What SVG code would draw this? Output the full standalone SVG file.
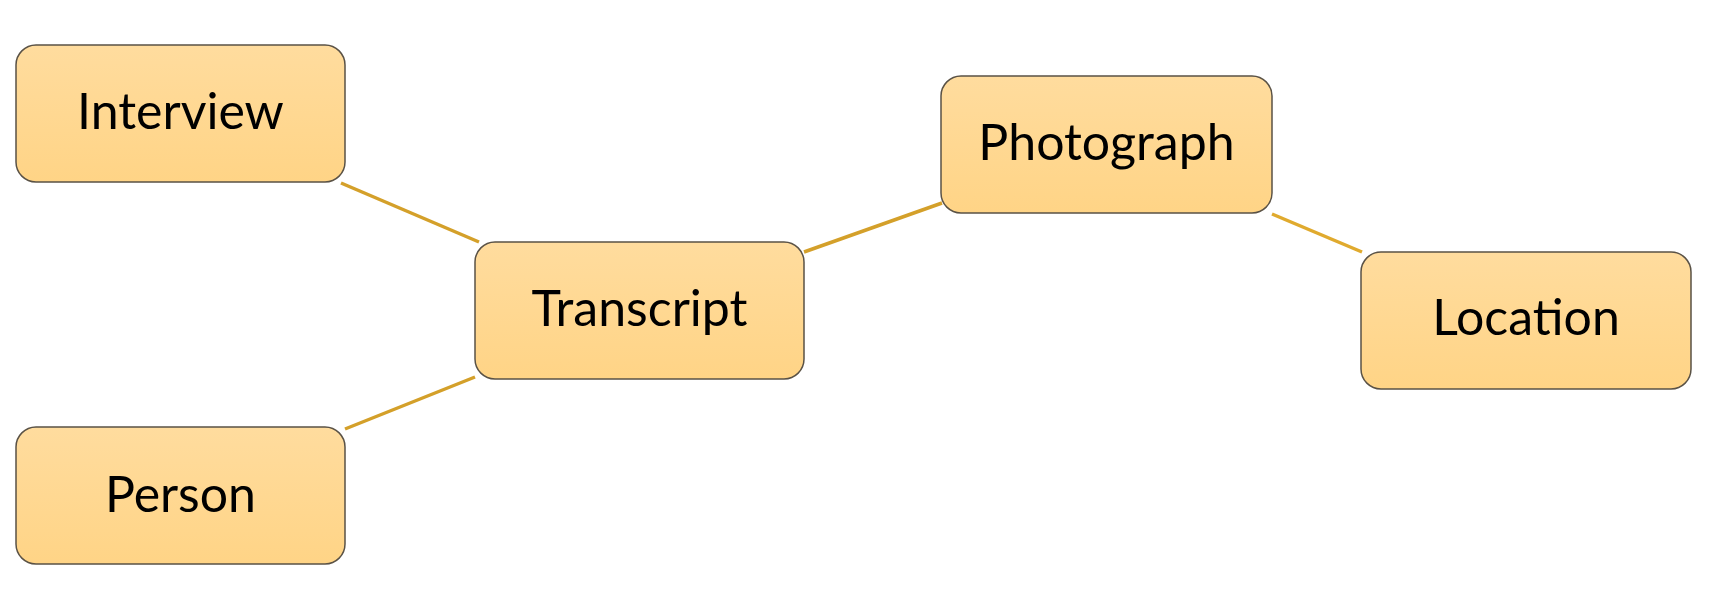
<svg xmlns="http://www.w3.org/2000/svg" width="1710" height="600" viewBox="0 0 1710 600">
<defs>
<linearGradient id="fill" x1="0" y1="0" x2="0" y2="1">
<stop offset="0" stop-color="#FFDC9E"/>
<stop offset="1" stop-color="#FFD486"/>
</linearGradient>
<style>
.box{fill:url(#fill);stroke:#5a5246;stroke-width:1.5}
.lbl{font-family:Lato,"Liberation Sans",sans-serif;font-size:50px;fill:#000;text-anchor:middle}
.edge{stroke:#D4A02A;stroke-width:3.5;fill:none}
</style>
</defs>
<rect width="1710" height="600" fill="#fff"/>
<g id="connectors">
<line class="edge" x1="341" y1="183" x2="479" y2="242"/>
<line class="edge" x1="804" y1="252" x2="942" y2="203"/>
<line class="edge" x1="1272" y1="214" x2="1362" y2="252" style="stroke:#E0AA2E"/>
<line class="edge" x1="345" y1="429" x2="475" y2="377"/>
</g>
<g id="interview">
<rect class="box" x="16" y="45" width="329" height="137" rx="20"/>
<text class="lbl" x="180.5" y="129">Interview</text>
</g>
<g id="transcript">
<rect class="box" x="475" y="242" width="329" height="137" rx="20"/>
<text class="lbl" x="639.5" y="326">Transcript</text>
</g>
<g id="photograph">
<rect class="box" x="941" y="76" width="331" height="137" rx="20"/>
<text class="lbl" x="1106.5" y="160">Photograph</text>
</g>
<g id="location">
<rect class="box" x="1361" y="252" width="330" height="137" rx="20"/>
<text class="lbl" x="1526" y="335">Location</text>
</g>
<g id="person">
<rect class="box" x="16" y="427" width="329" height="137" rx="20"/>
<text class="lbl" x="180.5" y="512">Person</text>
</g>
</svg>
